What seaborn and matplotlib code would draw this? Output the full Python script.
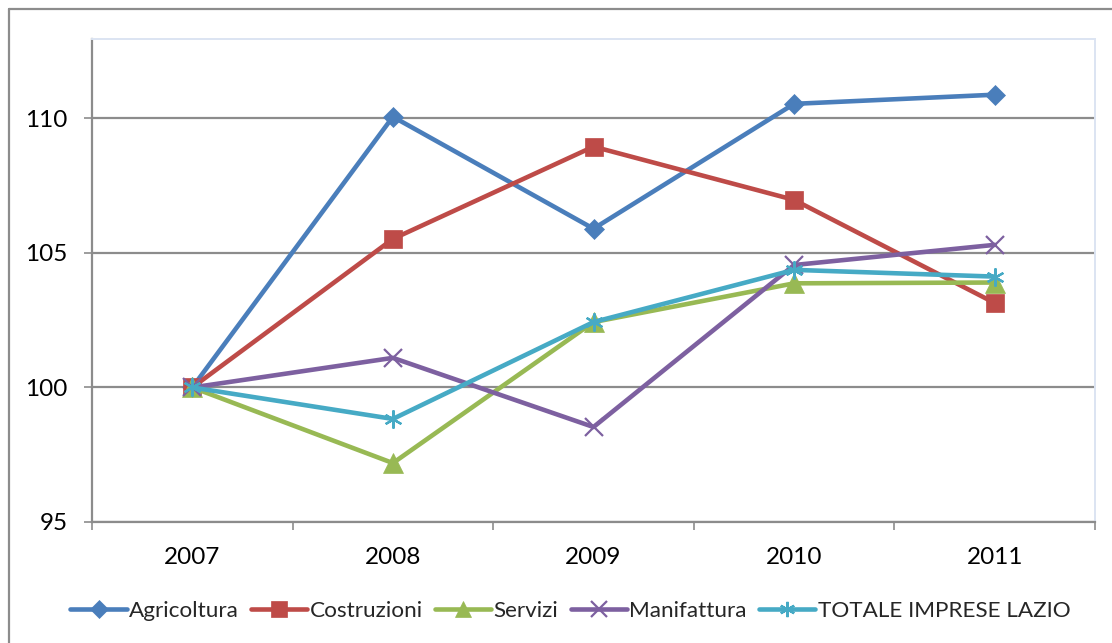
import numpy as np
import pandas as pd
import matplotlib.pyplot as plt
import seaborn as sns
from matplotlib.lines import Line2D

years = [2007, 2008, 2009, 2010, 2011]
agricoltura = [100, 110.06, 105.9, 110.54, 110.88]
costruzioni = [100, 105.52, 108.95, 106.97, 103.14]
servizi = [100, 97.19, 102.43, 103.87, 103.9]
manifattura = [100, 101.1, 98.53, 104.55, 105.3]
totale = [100, 98.83, 102.43, 104.37, 104.12]

series = ["Agricoltura", "Costruzioni", "Servizi", "Manifattura", "TOTALE IMPRESE LAZIO"]
values = [agricoltura, costruzioni, servizi, manifattura, totale]
colors = ["#4A7EBB", "#BE4B48", "#98B954", "#7D60A0", "#46AAC5"]
markers = ["D", "s", "^", "x", (6, 2, 0)]
msizes = [10.5, 13, 14, 13, 13]

df = pd.DataFrame({
    "anno": years * len(series),
    "valore": sum(values, []),
    "serie": np.repeat(series, len(years)),
})

sns.set_style("white")
plt.rcParams["font.family"] = ["Lato", "DejaVu Sans"]

fig = plt.figure(figsize=(11.12, 6.43), dpi=100)
ax = fig.add_axes([92 / 1112, 1 - 522 / 643, (1095 - 92) / 1112, (522 - 39) / 643])

for name, col, mk, ms in zip(series, colors, markers, msizes):
    sub = df[df["serie"] == name]
    sns.lineplot(data=sub, x="anno", y="valore", color=col, linewidth=3.3,
                 marker=mk, markersize=ms, markeredgecolor=col,
                 markeredgewidth=1.6 if mk in ("x",) or isinstance(mk, tuple) else 0.5,
                 label=name, ax=ax)

ax.set_xlim(2006.5, 2011.5)
ax.set_ylim(95, 112.95)
ax.set_yticks([95, 100, 105, 110])
ax.set_xticks(years)
ax.set_xticklabels([str(y) for y in years])
ax.set_xticks(np.arange(2006.5, 2012, 1), minor=True)
ax.set_xlabel("")
ax.set_ylabel("")

ax.grid(False)
ax.yaxis.grid(True, color="#8C8C8C", linewidth=1.6)
ax.set_axisbelow(True)

for s in ["left", "bottom"]:
    ax.spines[s].set_color("#8C8C8C")
    ax.spines[s].set_linewidth(1.6)
for s in ["top", "right"]:
    ax.spines[s].set_color("#DCE4F2")
    ax.spines[s].set_linewidth(1.4)

ax.tick_params(axis="y", which="major", direction="out", length=5.5, width=1.2,
               color="#8C8C8C", pad=12, labelsize=17.5, labelcolor="black", left=True)
ax.tick_params(axis="x", which="major", length=0, pad=18, labelsize=17.5,
               labelcolor="black", bottom=True)
ax.tick_params(axis="x", which="minor", direction="out", length=5.5, width=1.2,
               color="#8C8C8C", bottom=True)

leg = ax.legend(loc="center", bbox_to_anchor=(0.477, -0.184), ncol=5, frameon=False,
                fontsize=16.2, handlelength=2.5, handletextpad=0.1, columnspacing=0.55,
                borderaxespad=0)
for h, ms in zip(leg.legend_handles, [9, 11, 11, 11, 11]):
    h.set_markersize(ms)

# outer chart frame (left and top edges visible)
fig.add_artist(Line2D([9 / 1112, 9 / 1112], [0, 1 - 9 / 643], color="#8C8C8C",
                      linewidth=1.6, transform=fig.transFigure))
fig.add_artist(Line2D([9 / 1112, 1], [1 - 9 / 643, 1 - 9 / 643], color="#8C8C8C",
                      linewidth=1.6, transform=fig.transFigure))

fig.savefig("out.png", dpi=100)
